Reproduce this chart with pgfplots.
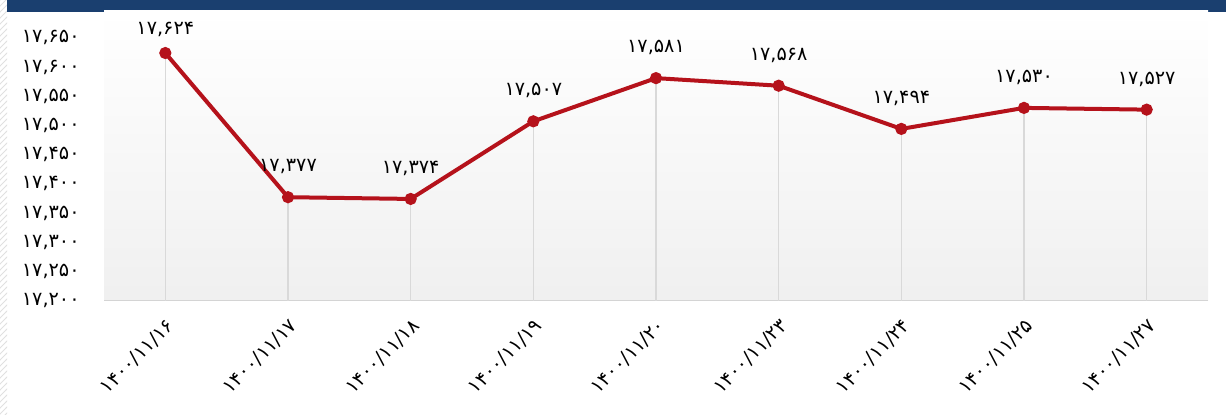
\documentclass[border=0pt]{standalone}
\usepackage{fontspec}
\usepackage{pgfplots}
\pgfplotsset{compat=1.18}
\usetikzlibrary{patterns}
\newfontfamily\fa{DejaVu Sans}
\definecolor{cLine}{HTML}{B5121B}
\definecolor{cBar}{HTML}{1A3F6F}
\definecolor{cDrop}{HTML}{D9D9D9}
\definecolor{cAxis}{HTML}{D4D4D4}
\newcommand{\lbl}{\fa\fontsize{9.6}{11}\selectfont}

\begin{document}
\begin{tikzpicture}
% hatched left strip and top bar
\fill[pattern=north east lines, pattern color=black!12] (0,0) rectangle (3.5pt,207pt);
\fill[cBar] (3.5pt,201pt) rectangle (613pt,207pt);
\begin{axis}[
    at={(52pt,56.75pt)}, anchor=south west,
    scale only axis,
    width=552pt, height=144.75pt,
    xmin=-0.5, xmax=8.5,
    ymin=17200, ymax=17696,
    scaled y ticks=false,
    axis background/.style={shade, top color=white, bottom color=black!6},
    axis x line*=bottom, axis y line*=left,
    x axis line style={-, draw=cAxis, line width=0.6pt},
    y axis line style={-, draw=none},
    major tick length=0pt,
    xtick={0,...,8},
    xticklabels={۱۴۰۰/۱۱/۱۶,۱۴۰۰/۱۱/۱۷,۱۴۰۰/۱۱/۱۸,۱۴۰۰/۱۱/۱۹,۱۴۰۰/۱۱/۲۰,۱۴۰۰/۱۱/۲۳,۱۴۰۰/۱۱/۲۴,۱۴۰۰/۱۱/۲۵,۱۴۰۰/۱۱/۲۷},
    xticklabel shift=8pt,
    xticklabel style={font=\lbl, rotate=45, anchor=north east, inner sep=0pt},
    ytick={17200,17250,...,17650},
    yticklabels={{۱۷,۲۰۰},{۱۷,۲۵۰},{۱۷,۳۰۰},{۱۷,۳۵۰},{۱۷,۴۰۰},{۱۷,۴۵۰},{۱۷,۵۰۰},{۱۷,۵۵۰},{۱۷,۶۰۰},{۱۷,۶۵۰}},
    yticklabel style={font=\lbl, anchor=east, inner sep=0pt, xshift=-12pt},
]
% drop lines
\addplot[ycomb, draw=cDrop, line width=0.6pt, mark=none] coordinates {
(0,17624)(1,17377)(2,17374)(3,17507)(4,17581)(5,17568)(6,17494)(7,17530)(8,17527)};
% main series
\addplot[cLine, line width=2pt, mark=*, mark size=2pt, mark options={fill=cLine, draw=cLine}] coordinates {
(0,17624)(1,17377)(2,17374)(3,17507)(4,17581)(5,17568)(6,17494)(7,17530)(8,17527)};
% value labels
\addplot[draw=none, mark=none, point meta=explicit symbolic,
    nodes near coords,
    every node near coord/.append style={font=\lbl, anchor=south, inner sep=0pt, yshift=11.5pt}]
coordinates {
(1,17377) [۱۷,۳۷۷]
(2,17374) [۱۷,۳۷۴]
(3,17507) [۱۷,۵۰۷]
(4,17581) [۱۷,۵۸۱]
(5,17568) [۱۷,۵۶۸]
(6,17494) [۱۷,۴۹۴]
(7,17530) [۱۷,۵۳۰]
(8,17527) [۱۷,۵۲۷]
};
\addplot[draw=none, mark=none, point meta=explicit symbolic,
    nodes near coords,
    every node near coord/.append style={font=\lbl, anchor=south, inner sep=0pt, yshift=8pt}]
coordinates {(0,17624) [۱۷,۶۲۴]};
\end{axis}
\pgfresetboundingbox
\path (0,0) rectangle (613pt,207pt);
\end{tikzpicture}
\end{document}
